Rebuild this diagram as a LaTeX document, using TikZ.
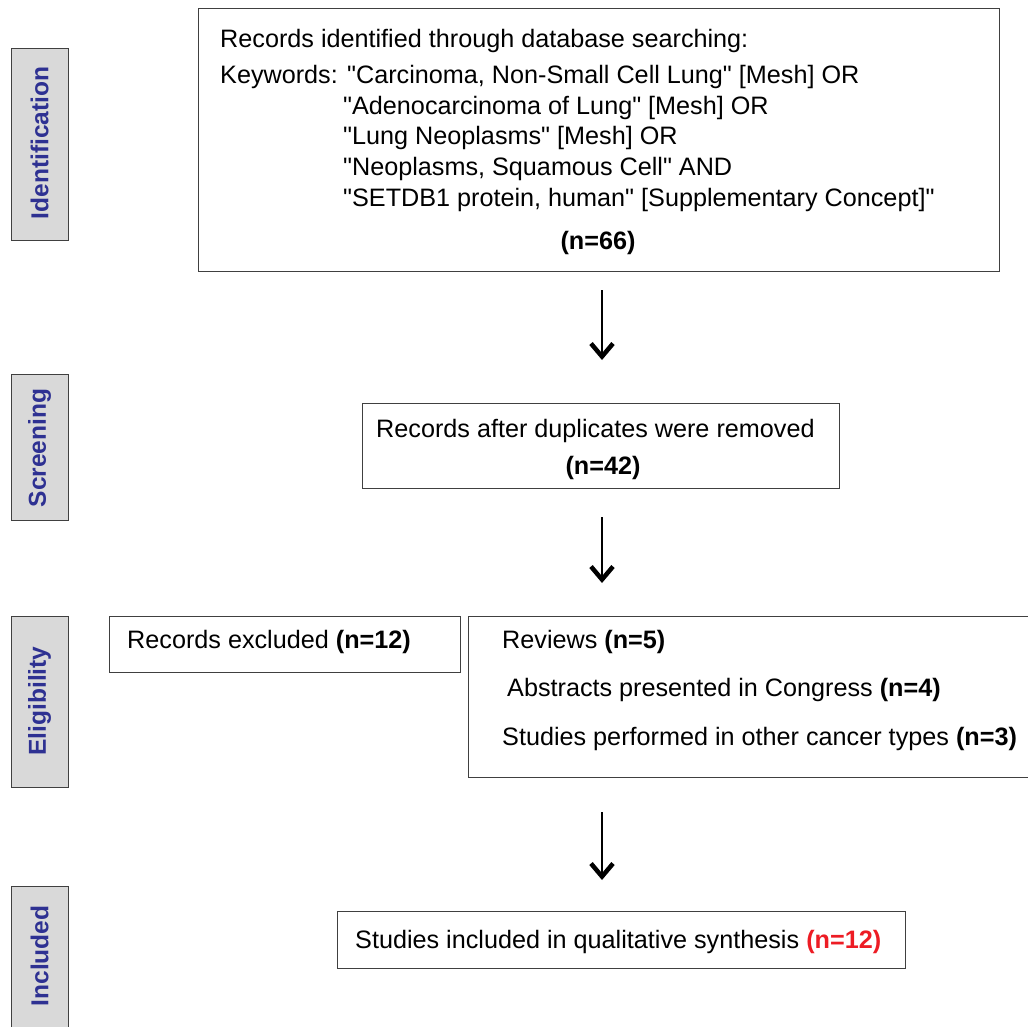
\documentclass[tikz,border=0pt]{standalone}
\usepackage{fontspec}
\setmainfont{Liberation Sans}
\usetikzlibrary{arrows.meta}
\definecolor{sidefill}{RGB}{217,217,217}
\definecolor{sidetext}{RGB}{46,49,146}
\definecolor{boxline}{RGB}{64,64,64}
\definecolor{nred}{RGB}{237,28,36}
\newcommand{\qq}{\textquotedbl}
\begin{document}
\begin{tikzpicture}[x=1pt,y=-1pt,
  box/.style={draw=boxline, line width=1.3pt, fill=white, inner sep=0pt, anchor=north west},
  side/.style={draw=boxline, line width=1.3pt, fill=sidefill, inner sep=0pt, anchor=north west, minimum width=57pt},
  sidelabel/.style={rotate=90, text=sidetext, font=\fontsize{24.5}{28}\selectfont\bfseries, inner sep=0pt},
  txt/.style={anchor=base west, inner sep=0pt, font=\fontsize{25.2}{30}\selectfont},
  ctxt/.style={anchor=base, inner sep=0pt, font=\fontsize{25.2}{30}\selectfont\bfseries},
  flow/.style={line width=1.8pt, -{Straight Barb[length=13pt,width=22pt,line width=4.5pt]}}
]
\useasboundingbox (0,0) rectangle (1028,1027);
\clip (0,0) rectangle (1028,1027);

% side bars
\node[side, minimum height=192pt] (sId) at (11,48) {};
\node[side, minimum height=146pt] (sSc) at (11,374) {};
\node[side, minimum height=171pt] (sEl) at (11,616) {};
\node[side, minimum height=160pt] (sIn) at (11,886) {};
\node[sidelabel] (lId) at (39.5,143) {Identification};
\node[sidelabel] (lSc) at (39.5,448) {Screening};
\node[sidelabel] (lEl) at (39.5,701) {Eligibility};
\node[sidelabel] (lIn) at (39.5,956) {Included};

% identification box
\node[box, minimum width=801pt, minimum height=263pt] (ident) at (198,8) {};
\node[txt] (t1) at (220,48) {Records identified through database searching:};
\node[txt] (t2) at (220,84) {Keywords: \qq Carcinoma, Non-Small Cell Lung\qq\ [Mesh] OR};
\node[txt] (t3) at (343,115) {\qq Adenocarcinoma of Lung\qq\ [Mesh] OR};
\node[txt] (t4) at (343,145) {\qq Lung Neoplasms\qq\ [Mesh] OR};
\node[txt] (t5) at (343,176) {\qq Neoplasms, Squamous Cell\qq\ AND};
\node[txt] (t6) at (343,207) {\qq SETDB1 protein, human\qq\ [Supplementary Concept]\qq};
\node[ctxt] (t7) at (598,249) {(n=66)};

% screening box
\node[box, minimum width=477pt, minimum height=85pt] (scr) at (362,403) {};
\node[txt] (s1) at (376,437) {Records after duplicates were removed};
\node[ctxt] (s2) at (603,474) {(n=42)};

% eligibility boxes
\node[box, minimum width=351pt, minimum height=56pt] (excl) at (109,616) {};
\node[txt] (e0) at (127,648) {Records excluded \textbf{(n=12)}};
\node[box, minimum width=600pt, minimum height=161pt] (rev) at (468,616) {};
\node[txt] (e1) at (502,648) {Reviews \textbf{(n=5)}};
\node[txt] (e2) at (507,696) {Abstracts presented in Congress \textbf{(n=4)}};
\node[txt] (e3) at (502,745) {Studies performed in other cancer types \textbf{(n=3)}};

% included box
\node[box, minimum width=568pt, minimum height=57pt] (inc) at (337,911) {};
\node[txt] (i1) at (355,948) {Studies included in qualitative synthesis \textcolor{nred}{\textbf{(n=12)}}};

% arrows
\coordinate (a1s) at (602,290);
\coordinate (a1e) at (602,360);
\coordinate (a2s) at (602,517);
\coordinate (a2e) at (602,583);
\coordinate (a3s) at (602,812);
\coordinate (a3e) at (602,880);
\draw[flow] (a1s) -- (a1e);
\draw[flow] (a2s) -- (a2e);
\draw[flow] (a3s) -- (a3e);
\end{tikzpicture}
\end{document}
